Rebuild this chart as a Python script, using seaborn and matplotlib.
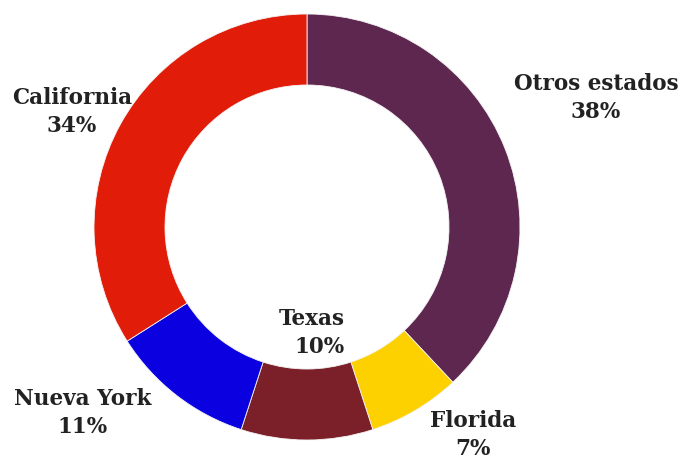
import matplotlib
matplotlib.use('Agg')
import seaborn as sns
import matplotlib.pyplot as plt

# slices, clockwise from 12 o'clock
estados = ['Otros estados', 'Florida', 'Texas', 'Nueva York', 'California']
porcentajes = [38, 7, 10, 11, 34]
colores = ['#5E2750', '#FDD000', '#7B2028', '#0A00E0', '#E11D0A']

sns.set_theme(style="white")
plt.rcParams['font.family'] = ['DejaVu Serif']

fig = plt.figure(figsize=(6.8, 4.61), dpi=100)
ax = fig.add_axes([0, 0, 1, 1])

ax.pie(porcentajes, colors=colores, startangle=90, counterclock=False,
       center=(307, 234), radius=213,
       wedgeprops=dict(width=71, edgecolor='#f4f4f4', linewidth=0.6))
ax.set_aspect('equal')
ax.set_xlim(0, 680)
ax.set_ylim(0, 461)
ax.axis('off')

# label anchors (x, y, alignment)
etiquetas = {
    'Otros estados': (596, 363, 'center'),
    'Florida': (473, 26, 'center'),
    'Texas': (345, 128, 'right'),
    'Nueva York': (83, 48, 'center'),
    'California': (72, 349, 'center'),
}
for est, pct in zip(estados, porcentajes):
    x, y, ha = etiquetas[est]
    ax.text(x, y, f"{est}\n{pct}%", ha=ha, va='center', ma=ha,
            fontsize=15.5, fontweight='bold', color='#222222', linespacing=1.38)

fig.savefig('out.png', dpi=100)
